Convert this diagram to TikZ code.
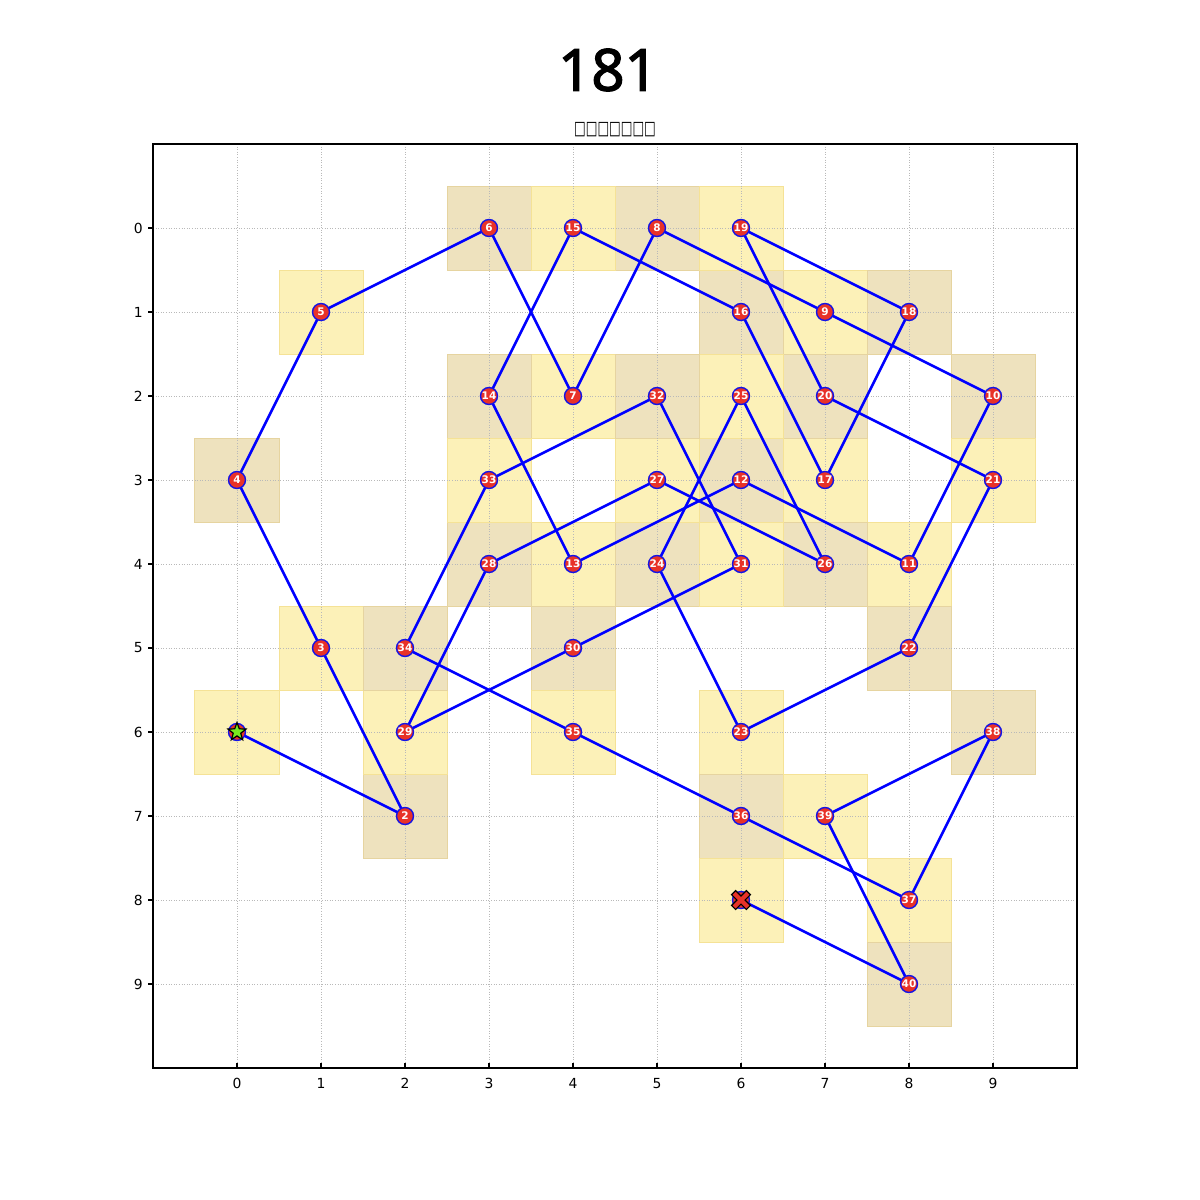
\documentclass[tikz,border=0pt]{standalone}
\usepackage{fontspec}
\setmainfont{DejaVu Sans}
\newfontfamily\titlefont{Noto Sans}[BoldFont={Noto Sans}, BoldFeatures={FakeBold=2.2}]
\usetikzlibrary{shapes.geometric}
\definecolor{cellY}{RGB}{252,241,184}
\definecolor{cellT}{RGB}{238,226,190}
\definecolor{edgeY}{RGB}{245,226,150}
\definecolor{edgeT}{RGB}{230,212,160}
\definecolor{dotred}{RGB}{232,50,40}
\definecolor{stargreen}{RGB}{120,235,30}
\definecolor{gridgray}{RGB}{185,185,185}
\tikzset{
  cellodd/.style={fill=cellY, draw=edgeY, line width=1pt},
  celleven/.style={fill=cellT, draw=edgeT, line width=1pt},
  pathline/.style={draw={rgb,255:red,0;green,0;blue,255}, line width=2.6pt},
  dot/.style={circle, fill=dotred, draw={rgb,255:red,20;green,20;blue,230}, line width=1.4pt,
    minimum size=17pt, inner sep=0pt, text=white, font=\fontsize{10.5}{11}\selectfont\bfseries},
  ticklab/.style={font=\fontsize{13.9}{16}\selectfont, inner sep=0pt},
  gridline/.style={draw=gridgray, line width=0.8pt, dash pattern=on 1pt off 1.6pt}
}
\begin{document}
\begin{tikzpicture}[x=84pt,y=-84pt]
\useasboundingbox[fill=white] (-237pt,228pt) rectangle (963pt,-972pt);
% cells
\foreach \i/\x/\y in {1/0/6,2/2/7,3/1/5,4/0/3,5/1/1,6/3/0,7/4/2,8/5/0,9/7/1,10/9/2,
  11/8/4,12/6/3,13/4/4,14/3/2,15/4/0,16/6/1,17/7/3,18/8/1,19/6/0,20/7/2,
  21/9/3,22/8/5,23/6/6,24/5/4,25/6/2,26/7/4,27/5/3,28/3/4,29/2/6,30/4/5,
  31/6/4,32/5/2,33/3/3,34/2/5,35/4/6,36/6/7,37/8/8,38/9/6,39/7/7,40/8/9,41/6/8}{
  \pgfmathparse{int(mod(\i,2))}
  \ifnum\pgfmathresult=1
    \path[cellodd] (\x-0.5,\y-0.5) rectangle (\x+0.5,\y+0.5);
  \else
    \path[celleven] (\x-0.5,\y-0.5) rectangle (\x+0.5,\y+0.5);
  \fi
}
% grid
\foreach \k in {0,...,9}{
  \path[gridline] (\k,-1) -- (\k,10);
  \path[gridline] (-1,\k) -- (10,\k);
}
% axes frame and ticks
\draw[line width=1.1pt] (-1,-1) rectangle (10,10);
\foreach \k in {0,...,9}{
  \draw[line width=1.1pt] (\k,10) -- ++(0,4.9pt);
  \node[ticklab, anchor=north] (xt\k) at ([yshift=-10pt]\k,10) {\k};
  \draw[line width=1.1pt] (-1,\k) -- ++(-4.9pt,0);
  \node[ticklab, anchor=east] (yt\k) at ([xshift=-10pt]-1,\k) {\k};
}
% titles
\node[font=\titlefont\bfseries\fontsize{58}{64}\selectfont, inner sep=0pt] (title) at (371pt,158pt) {181};
\node[font=\fontsize{13}{15}\selectfont, inner sep=0pt] (subtitle) at (378pt,98pt) {\scalebox{0.95}[1.45]{□□□□□□□}};
% coordinates
\foreach \i/\x/\y in {1/0/6,2/2/7,3/1/5,4/0/3,5/1/1,6/3/0,7/4/2,8/5/0,9/7/1,10/9/2,
  11/8/4,12/6/3,13/4/4,14/3/2,15/4/0,16/6/1,17/7/3,18/8/1,19/6/0,20/7/2,
  21/9/3,22/8/5,23/6/6,24/5/4,25/6/2,26/7/4,27/5/3,28/3/4,29/2/6,30/4/5,
  31/6/4,32/5/2,33/3/3,34/2/5,35/4/6,36/6/7,37/8/8,38/9/6,39/7/7,40/8/9,41/6/8}{
  \coordinate (c\i) at (\x,\y);
}
% path
\foreach \i [evaluate=\i as \j using int(\i+1)] in {1,...,40}{
  \draw[pathline] (c\i) -- (c\j);
}
\foreach \i in {1,...,40}{
  \node[dot] (n\i) at (c\i) {\i};
}
\node[dot] (n41) at (c41) {};
% start star
\node[star, star points=5, star point ratio=2.4, fill=stargreen, draw=black, line width=1.2pt,
  minimum size=19pt, inner sep=0pt] (start) at (c1) {};
% end X
\begin{scope}[shift={(c41)}]
  \filldraw[fill=dotred, draw=black, line width=1.2pt, rotate=45]
    (-2.9pt,-10.5pt) -- (2.9pt,-10.5pt) -- (2.9pt,-2.9pt) -- (10.5pt,-2.9pt) -- (10.5pt,2.9pt)
    -- (2.9pt,2.9pt) -- (2.9pt,10.5pt) -- (-2.9pt,10.5pt) -- (-2.9pt,2.9pt) -- (-10.5pt,2.9pt)
    -- (-10.5pt,-2.9pt) -- (-2.9pt,-2.9pt) -- cycle;
\end{scope}
\end{tikzpicture}
\end{document}
